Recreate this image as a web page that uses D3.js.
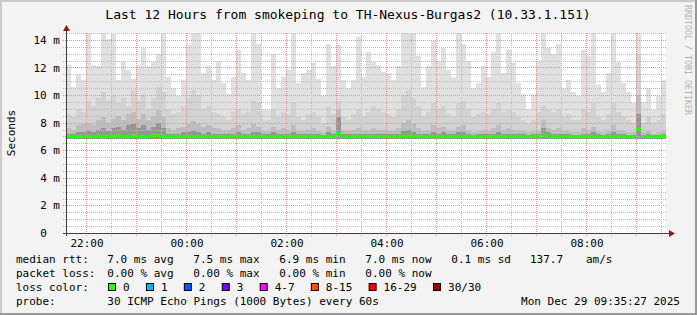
<!DOCTYPE html>
<html>
<head>
<meta charset="utf-8">
<script src="https://cdn.jsdelivr.net/npm/d3@7"></script>
<style>
body { margin: 0; background: #f3f3f3; }
text { font-family: "DejaVu Sans Mono", monospace; }
</style>
</head>
<body>
<div id="graph"></div>
<script>
// one column = 6 minutes, starting at 21:35:27
const maxRtt = [
  12.2, 10.6, 11.5, 11.1, 14.5, 12.2, 12.1, 14.5, 14.1, 14.4, 11.1, 12.5, 11.8, 11.2, 12.1, 13.4, 12.0, 12.4, 13.0, 14.5, 11.3, 10.5, 9.9, 11.1, 13.6, 14.5, 14.5, 11.6, 12.1, 11.1,
  12.5, 10.9, 10.1, 11.3, 13.3, 11.6, 11.1, 14.5, 13.7, 9.0, 8.9, 13.0, 10.5, 11.3, 11.8, 14.5, 10.9, 11.6, 11.8, 12.3, 11.2, 9.9, 13.7, 12.1, 13.6, 11.1, 10.5, 11.1, 14.2, 11.3,
  13.1, 12.4, 12.2, 11.7, 11.6, 11.1, 12.1, 14.5, 14.5, 14.5, 12.8, 10.6, 12.1, 13.9, 12.5, 13.4, 11.8, 11.3, 14.5, 13.7, 12.5, 10.5, 10.9, 12.1, 11.3, 13.1, 14.5, 11.6, 13.3, 12.3,
  10.9, 10.1, 9.0, 10.1, 12.5, 14.5, 13.4, 13.0, 13.7, 10.5, 11.1, 10.2, 9.9, 13.3, 12.8, 14.5, 10.7, 10.2, 11.6, 14.5, 12.4, 10.9, 10.2, 9.4, 14.5, 9.5, 10.5, 8.9, 9.9, 11.1
]
const upperRtt = [
  8.6, 8.4, 9.0, 8.8, 9.6, 9.2, 9.8, 10.2, 9.6, 10.0, 9.4, 9.8, 9.2, 10.4, 9.6, 10.0, 9.0, 9.8, 10.6, 10.2, 9.0, 8.6, 8.8, 9.2, 9.8, 10.4, 10.0, 9.0, 9.2, 8.8,
  8.6, 8.4, 8.2, 8.8, 9.0, 8.6, 8.8, 9.6, 9.4, 8.2, 8.2, 9.0, 8.4, 8.8, 8.6, 9.4, 8.4, 8.2, 8.6, 8.8, 8.4, 8.0, 9.2, 8.6, 9.6, 8.4, 8.2, 8.6, 9.0, 8.4,
  8.8, 9.2, 9.0, 8.8, 8.6, 8.4, 9.0, 10.0, 10.4, 9.8, 9.2, 8.4, 8.8, 9.4, 9.0, 9.2, 8.6, 8.4, 9.4, 9.6, 9.0, 8.4, 8.6, 8.8, 8.6, 9.0, 9.4, 8.8, 9.0, 8.8,
  8.4, 8.2, 8.0, 8.2, 8.8, 9.2, 9.0, 8.8, 9.0, 8.4, 8.6, 8.2, 8.2, 9.0, 8.8, 9.4, 8.4, 8.2, 8.6, 9.4, 8.8, 8.4, 8.2, 8.0, 13.0, 8.0, 8.4, 7.9, 8.2, 8.6
]
const darkRtt = [
  7.6, 7.5, 7.8, 7.9, 8.0, 7.8, 8.2, 8.4, 8.0, 8.3, 8.5, 8.2, 8.6, 8.8, 8.3, 8.6, 8.2, 8.5, 8.9, 8.4, 7.6, 7.5, 7.6, 7.7, 7.9, 8.1, 7.9, 7.7, 7.8, 7.6,
  7.6, 7.5, 7.5, 7.6, 7.8, 7.5, 7.6, 7.9, 7.7, 7.4, 7.4, 7.7, 7.5, 7.6, 7.5, 7.8, 7.4, 7.4, 7.5, 7.6, 7.4, 7.3, 7.7, 7.5, 9.0, 7.5, 7.4, 7.5, 7.6, 7.4,
  7.5, 7.6, 7.5, 7.5, 7.4, 7.4, 7.6, 8.0, 8.2, 7.9, 7.6, 7.4, 7.5, 7.8, 7.6, 7.7, 7.4, 7.4, 7.7, 7.8, 7.5, 7.3, 7.4, 7.5, 7.4, 7.6, 7.8, 7.5, 7.6, 7.5,
  7.4, 7.4, 7.3, 7.4, 7.5, 8.2, 7.6, 7.5, 7.6, 7.4, 7.4, 7.3, 7.3, 7.6, 7.5, 7.7, 7.4, 7.3, 7.5, 7.8, 7.5, 7.4, 7.3, 7.3, 10.0, 7.3, 7.4, 7.2, 7.3, 7.4
]
const coreRtt = [
  7.2, 7.2, 7.3, 7.3, 7.4, 7.3, 7.5, 7.6, 7.4, 7.6, 7.7, 7.5, 7.8, 7.9, 7.6, 7.8, 7.5, 7.7, 8.0, 7.6, 7.2, 7.2, 7.2, 7.3, 7.3, 7.4, 7.3, 7.2, 7.3, 7.2,
  7.2, 7.2, 7.2, 7.2, 7.3, 7.2, 7.2, 7.3, 7.3, 7.2, 7.2, 7.3, 7.2, 7.2, 7.2, 7.3, 7.2, 7.2, 7.2, 7.2, 7.2, 7.1, 7.3, 7.2, 8.4, 7.2, 7.2, 7.2, 7.2, 7.2,
  7.2, 7.2, 7.2, 7.2, 7.2, 7.2, 7.2, 7.4, 7.5, 7.3, 7.2, 7.2, 7.2, 7.3, 7.2, 7.3, 7.2, 7.2, 7.3, 7.3, 7.2, 7.1, 7.2, 7.2, 7.2, 7.2, 7.3, 7.2, 7.2, 7.2,
  7.2, 7.2, 7.1, 7.2, 7.2, 7.6, 7.3, 7.2, 7.2, 7.2, 7.2, 7.1, 7.1, 7.2, 7.2, 7.3, 7.2, 7.1, 7.2, 7.3, 7.2, 7.2, 7.1, 7.1, 8.6, 7.1, 7.2, 7.1, 7.1, 7.2
]
const medianRtt = [
  7.0, 7.0, 7.0, 7.0, 7.0, 7.0, 7.05, 7.0, 7.0, 7.0, 7.05, 7.0, 7.0, 7.05, 7.0, 7.0, 7.0, 7.05, 7.05, 7.0, 7.0, 7.0, 7.0, 7.0, 7.0, 7.0, 7.0, 7.0, 7.0, 7.0,
  7.0, 7.0, 7.0, 7.0, 7.0, 7.0, 7.0, 7.0, 7.0, 7.0, 7.0, 7.0, 7.0, 7.0, 7.0, 7.0, 7.0, 7.0, 7.0, 7.0, 7.0, 7.0, 7.0, 7.0, 7.25, 7.0, 7.0, 7.0, 7.0, 7.0,
  7.0, 7.0, 7.0, 7.0, 7.0, 7.0, 7.0, 7.05, 7.0, 7.0, 7.0, 7.0, 7.0, 7.0, 7.0, 7.0, 7.0, 7.0, 7.0, 7.0, 7.0, 7.0, 7.0, 7.0, 7.0, 7.0, 7.0, 7.0, 7.0, 7.0,
  7.0, 7.0, 7.0, 7.0, 7.0, 7.15, 7.0, 7.0, 7.0, 7.0, 7.0, 7.0, 7.0, 7.0, 7.0, 7.0, 7.0, 7.0, 7.0, 7.0, 7.0, 7.0, 7.0, 7.0, 7.5, 7.0, 7.0, 7.0, 7.0, 7.0
]
const SMOKE_FLOOR = 6.85

const yTicks = [0, 2, 4, 6, 8, 10, 12, 14]
const rttStats = ["7.0 ms avg", "7.5 ms max", "6.9 ms min", "7.0 ms now", "0.1 ms sd"]
const lossStats = ["0.00 % avg", "0.00 % max", "0.00 % min", "0.00 % now"]
const lossLabels = ["0", "1", "2", "3", "4-7", "8-15", "16-29", "30/30"]
const lossColors = ["#26ff00", "#00b8ff", "#0059ff", "#7e00ff", "#ff00ff", "#ff5500", "#ff0000", "#a00000"]

const W = 697, H = 315
const PLOT = { LEFT: 66, RIGHT: 666, TOP: 33, BOTTOM: 233 }
const START = new Date(2025, 11, 28, 21, 35, 27)
const END = new Date(2025, 11, 29, 9, 35, 27)
const STEP = 6
const CW = 6.62 // char width of 11px mono

const svg = d3.select("#graph").append("svg")
    .attr("width", W)
    .attr("height", H)

// background + 3d frame
svg.append("rect").attr("width", W).attr("height", H).attr("fill", "#f3f3f3")
svg.append("rect").attr("width", W).attr("height", 2).attr("fill", "#cbcbcb")
svg.append("rect").attr("width", 2).attr("height", H).attr("fill", "#cbcbcb")
svg.append("rect").attr("y", H - 2).attr("width", W).attr("height", 2).attr("fill", "#999")
svg.append("rect").attr("x", W - 2).attr("width", 2).attr("height", H).attr("fill", "#999")

svg.append("rect")
    .attr("x", PLOT.LEFT).attr("y", PLOT.TOP)
    .attr("width", PLOT.RIGHT - PLOT.LEFT).attr("height", PLOT.BOTTOM - PLOT.TOP)
    .attr("fill", "#fff")

const x = d3.scaleTime().domain([START, END]).range([PLOT.LEFT, PLOT.RIGHT])
const y = d3.scaleLinear().domain([0, 14.5]).range([PLOT.BOTTOM, PLOT.TOP])

const cols = maxRtt.map((v, i) => ({
    t0: d3.timeMinute.offset(START, i * STEP),
    t1: d3.timeMinute.offset(START, (i + 1) * STEP),
    max: v, upper: upperRtt[i], dark: darkRtt[i], core: coreRtt[i], median: medianRtt[i]
}))

// Smoke
const bands = [
    { key: "max", color: "#e0e0e0" },
    { key: "upper", color: "#d2d2d2" },
    { key: "dark", color: "#bdbdbd" },
    { key: "core", color: "#959595" }
]
const smoke = svg.append("g").attr("shape-rendering", "crispEdges")
bands.forEach(b => {
    smoke.append("g").selectAll("rect")
        .data(cols)
        .enter().append("rect")
        .attr("x", d => x(d.t0))
        .attr("width", d => x(d.t1) - x(d.t0))
        .attr("y", d => y(Math.min(d[b.key], 14.5)))
        .attr("height", d => y(SMOKE_FLOOR) - y(Math.min(d[b.key], 14.5)))
        .attr("fill", b.color)
})

// Grid
const grid = svg.append("g").attr("stroke-dasharray", "1,1").attr("shape-rendering", "crispEdges")
const hMinor = d3.range(0.5, 14.51, 0.5).filter(v => v % 2 !== 0)
const hMajor = yTicks.filter(v => v > 0)
grid.selectAll("hminor").data(hMinor).enter().append("line")
    .attr("x1", PLOT.LEFT - 3).attr("x2", PLOT.RIGHT)
    .attr("y1", d => Math.round(y(d)) + 0.5).attr("y2", d => Math.round(y(d)) + 0.5)
    .attr("stroke", "#bcbcbc")
grid.selectAll("hmajor").data(hMajor).enter().append("line")
    .attr("x1", PLOT.LEFT - 3).attr("x2", PLOT.RIGHT)
    .attr("y1", d => Math.round(y(d)) + 0.5).attr("y2", d => Math.round(y(d)) + 0.5)
    .attr("stroke", "#e49494")
const vMinor = d3.timeMinute.every(30).range(START, END).filter(d => d.getMinutes() === 30)
const vMajor = d3.timeHour.every(1).range(START, END)
grid.selectAll("vminor").data(vMinor).enter().append("line")
    .attr("x1", d => Math.round(x(d)) + 0.5).attr("x2", d => Math.round(x(d)) + 0.5)
    .attr("y1", PLOT.TOP).attr("y2", PLOT.BOTTOM + 3)
    .attr("stroke", "#bcbcbc")
grid.selectAll("vmajor").data(vMajor).enter().append("line")
    .attr("x1", d => Math.round(x(d)) + 0.5).attr("x2", d => Math.round(x(d)) + 0.5)
    .attr("y1", PLOT.TOP).attr("y2", PLOT.BOTTOM + 3)
    .attr("stroke", "#e49494")

// Median line, coloured by loss (all 0 here)
svg.append("g").attr("shape-rendering", "crispEdges").selectAll("rect")
    .data(cols)
    .enter().append("rect")
    .attr("x", d => x(d.t0))
    .attr("width", d => x(d.t1) - x(d.t0))
    .attr("y", d => y(d.median) - 1.5)
    .attr("height", 3)
    .attr("fill", lossColors[0])

// Axes lines + arrows
svg.append("line")
    .attr("x1", PLOT.LEFT + 0.5).attr("x2", PLOT.LEFT + 0.5)
    .attr("y1", PLOT.BOTTOM + 3).attr("y2", PLOT.TOP - 4)
    .attr("stroke", "#404040")
svg.append("line")
    .attr("x1", PLOT.LEFT - 3).attr("x2", PLOT.RIGHT + 4)
    .attr("y1", PLOT.BOTTOM + 0.5).attr("y2", PLOT.BOTTOM + 0.5)
    .attr("stroke", "#404040")
svg.append("path")
    .attr("d", `M${PLOT.LEFT - 3},${PLOT.TOP - 2} L${PLOT.LEFT + 4},${PLOT.TOP - 2} L${PLOT.LEFT + 0.5},${PLOT.TOP - 8} Z`)
    .attr("fill", "#8b1a1a")
svg.append("path")
    .attr("d", `M${PLOT.RIGHT + 3},${PLOT.BOTTOM - 3} L${PLOT.RIGHT + 3},${PLOT.BOTTOM + 4} L${PLOT.RIGHT + 9},${PLOT.BOTTOM + 0.5} Z`)
    .attr("fill", "#8b1a1a")

// Y Axis labels
const yAxisCall = d3.axisLeft(y)
    .tickValues(yTicks)
    .tickSize(0)
    .tickPadding(6)
    .tickFormat(d => d === 0 ? "0\u00a0\u00a0" : d + " m")
const yAxis = svg.append("g")
    .attr("transform", `translate(${PLOT.LEFT}, 0)`)
    .call(yAxisCall)
yAxis.select(".domain").remove()
yAxis.selectAll("text").attr("font-size", "11px").attr("font-family", "DejaVu Sans Mono").attr("fill", "#000")

// X Axis labels
const xAxisCall = d3.axisBottom(x)
    .ticks(d3.timeHour.every(2))
    .tickSize(0)
    .tickPadding(6)
    .tickFormat(d3.timeFormat("%H:%M"))
const xAxis = svg.append("g")
    .attr("transform", `translate(0, ${PLOT.BOTTOM})`)
    .call(xAxisCall)
xAxis.select(".domain").remove()
xAxis.selectAll("text").attr("font-size", "11px").attr("font-family", "DejaVu Sans Mono").attr("fill", "#000")

// Title and labels
svg.append("text")
    .attr("x", 348).attr("y", 19)
    .attr("text-anchor", "middle")
    .attr("font-size", "13px")
    .text("Last 12 Hours from smokeping to TH-Nexus-Burgas2 (10.33.1.151)")
svg.append("text")
    .attr("transform", "translate(15, 133) rotate(-90)")
    .attr("text-anchor", "middle")
    .attr("font-size", "11px")
    .text("Seconds")
svg.append("text")
    .attr("transform", "translate(685, 5) rotate(90)")
    .attr("font-size", "8.3px")
    .attr("fill", "#b4b4b4")
    .text("RRDTOOL / TOBI OETIKER")

// Legend
const legend = svg.append("g").attr("font-size", "11px").attr("fill", "#000")
const COL0 = 107.3, COLW = 86
const rows = [263, 277, 291, 305]
legend.append("text").attr("x", 16).attr("y", rows[0]).text("median rtt:")
rttStats.forEach((s, i) => legend.append("text").attr("x", COL0 + i * COLW).attr("y", rows[0]).text(s))
legend.append("text").attr("x", 530).attr("y", rows[0]).text("137.7")
legend.append("text").attr("x", 586).attr("y", rows[0]).text("am/s")

legend.append("text").attr("x", 16).attr("y", rows[1]).text("packet loss:")
lossStats.forEach((s, i) => legend.append("text").attr("x", COL0 + i * COLW).attr("y", rows[1]).text(s))

legend.append("text").attr("x", 16).attr("y", rows[2]).text("loss color:")
let cursor = 108
lossLabels.forEach((lab, i) => {
    legend.append("rect")
        .attr("x", cursor + 0.5).attr("y", 283.5)
        .attr("width", 7).attr("height", 7)
        .attr("fill", lossColors[i]).attr("stroke", "#000")
    legend.append("text").attr("x", cursor + 15).attr("y", rows[2]).text(lab)
    cursor = cursor + 15 + lab.length * CW + 16.3
})

legend.append("text").attr("x", 16).attr("y", rows[3]).text("probe:")
legend.append("text").attr("x", COL0).attr("y", rows[3]).text("30 ICMP Echo Pings (1000 Bytes) every 60s")
legend.append("text").attr("x", 680).attr("y", rows[3]).attr("text-anchor", "end").text("Mon Dec 29 09:35:27 2025")
</script>
</body>
</html>
